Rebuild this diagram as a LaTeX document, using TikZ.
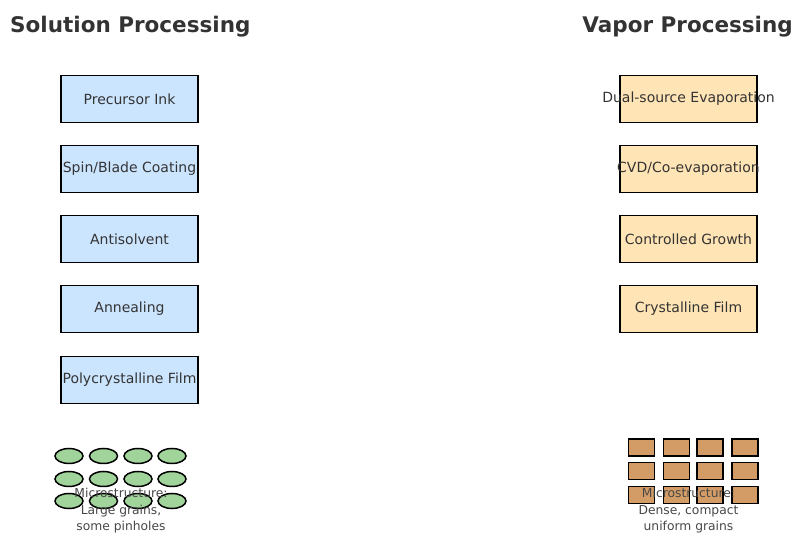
\documentclass[tikz,border=0pt]{standalone}
\usepackage{fontspec}
\setmainfont{DejaVu Sans}
\usetikzlibrary{shapes.geometric}
\definecolor{soltone}{HTML}{CCE5FF}
\definecolor{vaptone}{HTML}{FFE4B5}
\definecolor{graintone}{HTML}{A1D49B}
\definecolor{bricktone}{HTML}{D39C66}
\definecolor{inktone}{HTML}{333333}
\newcommand{\fixw}[1]{\makebox[0pt]{#1}}
\tikzset{block/.style = {draw, line width=1.4pt, rectangle, inner sep=0pt, minimum height=47pt, minimum width=137pt, text=inktone, font=\fontsize{14}{16}\selectfont},
         solstep/.style = {block, fill=soltone},
         vapstep/.style = {block, fill=vaptone},
         title/.style = {text=inktone, font=\fontsize{21.5}{25}\selectfont\bfseries},
         grain/.style = {draw, line width=1.5pt, fill=graintone, ellipse, inner sep=0pt, minimum width=28pt, minimum height=15pt},
         brick/.style = {draw, line width=1.5pt, fill=bricktone, rectangle, inner sep=0pt, minimum width=26pt, minimum height=17pt},
         note/.style = {align=center, text=inktone!90!white, font=\fontsize{12.3}{16.5}\selectfont}}

\begin{document}
\begin{tikzpicture}[x=1pt,y=-1pt]
    \useasboundingbox (0,0) rectangle (796,534);
    % titles
    \node[title, anchor=west, inner sep=0pt](soltitle)at(10,27){Solution Processing};
    \node[title, anchor=east, inner sep=0pt](vaptitle)at(793,27){Vapor Processing};
    % solution route
    \node[solstep](ink)at(129.5,99){\fixw{Precursor Ink}};
    \node[solstep](coat)at(129.5,169){\fixw{Spin/Blade Coating}};
    \node[solstep](anti)at(129.5,239){\fixw{Antisolvent}};
    \node[solstep](anneal)at(129.5,309){\fixw{Annealing}};
    \node[solstep](poly)at(129.5,380){\fixw{Polycrystalline Film}};
    % vapor route
    \node[vapstep](dual)at(688.5,99){\fixw{Dual-source Evaporation}};
    \node[vapstep](cvd)at(688.5,169){\fixw{CVD/Co-evaporation}};
    \node[vapstep](growth)at(688.5,239){\fixw{Controlled Growth}};
    \node[vapstep](cryst)at(688.5,309){\fixw{Crystalline Film}};
    % microstructures
    \foreach \col/\gx in {0/69,1/103.5,2/138,3/172}
        \foreach \row/\gy in {0/456,1/479,2/501}
            \node[grain](g\col\row)at(\gx,\gy){};
    \foreach \col/\bx in {0/641.5,1/676.5,2/710,3/745}
        \foreach \row/\by in {0/447.5,1/471,2/495}
            \node[brick](b\col\row)at(\bx,\by){};
    \node[note](solnote)at(121,511){Microstructure:\\Large grains,\\some pinholes};
    \node[note](vapnote)at(688.5,511){Microstructure:\\Dense, compact\\uniform grains};
\end{tikzpicture}
\end{document}
